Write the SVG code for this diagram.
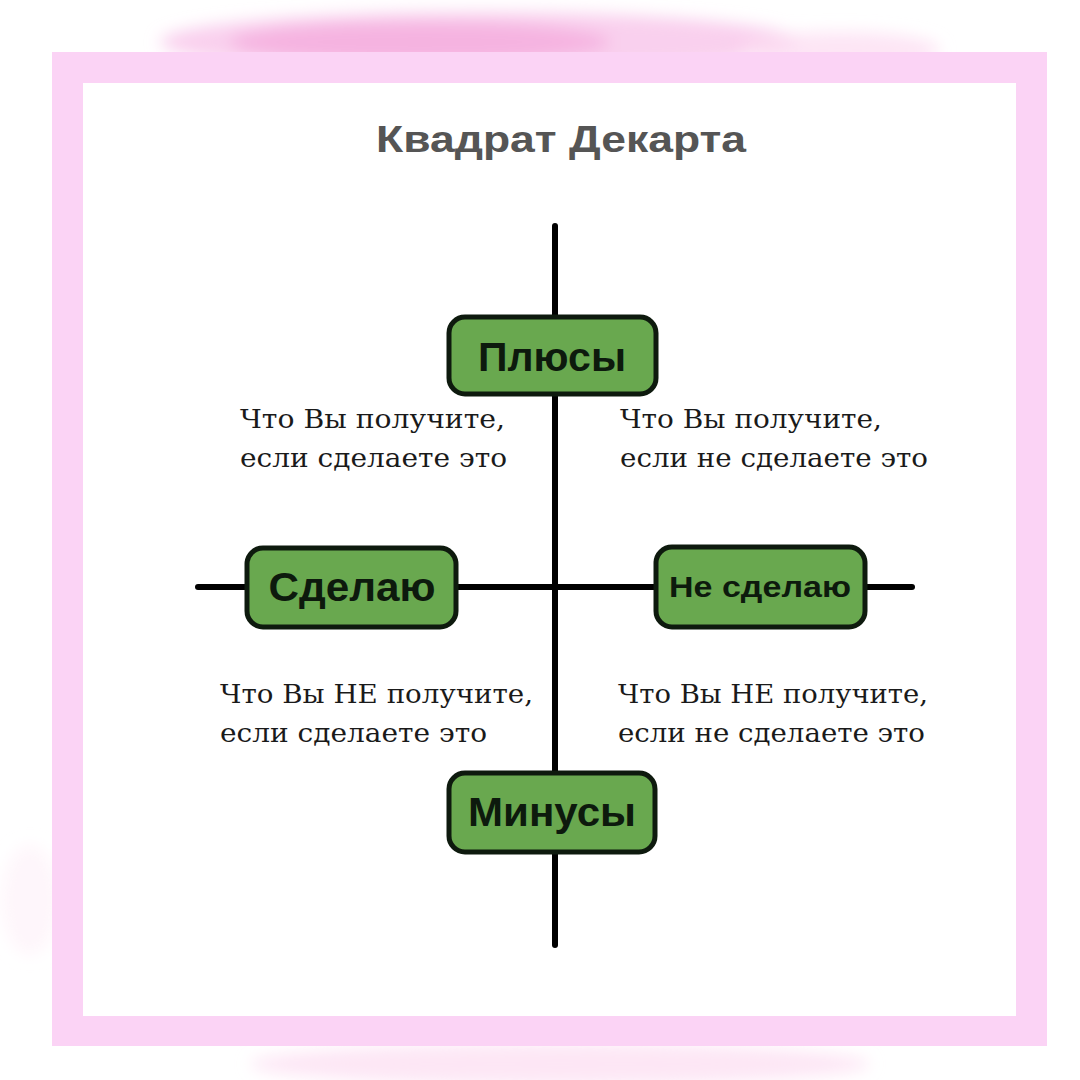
<svg xmlns="http://www.w3.org/2000/svg" width="1080" height="1080" viewBox="0 0 1080 1080">
  <style>
    .node rect { fill: #69a84f; stroke: #0e1a0e; stroke-width: 5; }
    .lbl { font-family: "Liberation Sans", Arial, sans-serif; font-weight: bold; fill: #0d1a0d; text-anchor: middle; }
    .q { font-family: "DejaVu Serif", "Liberation Serif", serif; font-size: 26px; fill: #1a1a1a; }
    .axis { stroke: #000; stroke-width: 6; stroke-linecap: round; fill: none; }
  </style>
  <defs>
    <filter id="soft" x="-20%" y="-50%" width="140%" height="200%">
      <feGaussianBlur stdDeviation="8"/>
    </filter>
  </defs>
  <rect width="1080" height="1080" fill="#ffffff"/>
  <g id="watercolor" filter="url(#soft)">
    <ellipse cx="480" cy="42" rx="320" ry="30" fill="#f8c4ea" opacity="0.8"/>
    <ellipse cx="420" cy="42" rx="190" ry="20" fill="#f29ad6" opacity="0.55"/>
    <ellipse cx="840" cy="50" rx="100" ry="18" fill="#fcdff3" opacity="0.8"/>
    <ellipse cx="560" cy="1064" rx="310" ry="20" fill="#fce0f3" opacity="0.8"/>
    <ellipse cx="30" cy="900" rx="28" ry="55" fill="#fef2fa" opacity="0.7"/>
  </g>
  <rect id="frame" x="52" y="52" width="995" height="994" fill="#fbd3f5"/>
  <rect x="83" y="83" width="933" height="933" fill="#ffffff"/>
  <text x="561" y="152" font-family="Liberation Sans, Arial, sans-serif" font-weight="bold" font-size="37" fill="#555555" text-anchor="middle" textLength="370" lengthAdjust="spacingAndGlyphs">Квадрат Декарта</text>
  <g id="connectors">
    <line class="axis" x1="555" y1="226" x2="555" y2="945"/>
    <line class="axis" x1="198" y1="587" x2="912" y2="587"/>
  </g>
  <g id="node-plus" class="node">
    <rect x="449" y="317" width="207" height="77" rx="16"/>
    <text class="lbl" x="552" y="371" font-size="41" textLength="148" lengthAdjust="spacingAndGlyphs">Плюсы</text>
  </g>
  <g id="node-do" class="node">
    <rect x="247" y="548" width="209" height="79" rx="16"/>
    <text class="lbl" x="352" y="601" font-size="41" textLength="167" lengthAdjust="spacingAndGlyphs">Сделаю</text>
  </g>
  <g id="node-dont" class="node">
    <rect x="656" y="547" width="209" height="80" rx="16"/>
    <text class="lbl" x="760" y="597" font-size="30" textLength="182" lengthAdjust="spacingAndGlyphs">Не сделаю</text>
  </g>
  <g id="node-minus" class="node">
    <rect x="449" y="773" width="206" height="79" rx="16"/>
    <text class="lbl" x="552" y="826" font-size="41" textLength="168" lengthAdjust="spacingAndGlyphs">Минусы</text>
  </g>
  <g id="texts">
    <text class="q" x="240" y="428" textLength="265" lengthAdjust="spacingAndGlyphs">Что Вы получите,</text>
    <text class="q" x="240" y="467" textLength="267" lengthAdjust="spacingAndGlyphs">если сделаете это</text>
    <text class="q" x="620" y="428" textLength="262" lengthAdjust="spacingAndGlyphs">Что Вы получите,</text>
    <text class="q" x="620" y="467" textLength="308" lengthAdjust="spacingAndGlyphs">если не сделаете это</text>
    <text class="q" x="220" y="703" textLength="313" lengthAdjust="spacingAndGlyphs">Что Вы НЕ получите,</text>
    <text class="q" x="220" y="742" textLength="267" lengthAdjust="spacingAndGlyphs">если сделаете это</text>
    <text class="q" x="618" y="703" textLength="310" lengthAdjust="spacingAndGlyphs">Что Вы НЕ получите,</text>
    <text class="q" x="618" y="742" textLength="307" lengthAdjust="spacingAndGlyphs">если не сделаете это</text>
  </g>
</svg>
